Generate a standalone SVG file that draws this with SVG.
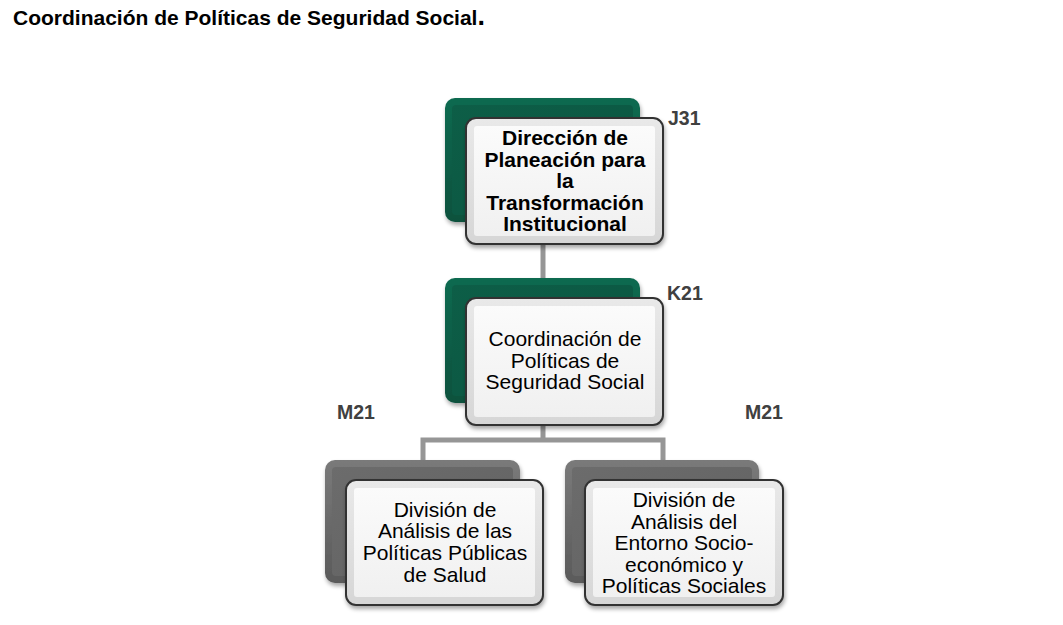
<svg xmlns="http://www.w3.org/2000/svg" width="1063" height="625" viewBox="0 0 1063 625">
<defs>
<linearGradient id="gGreen" x1="0" y1="0" x2="0" y2="1">
<stop offset="0" stop-color="#0f6a50"/><stop offset="1" stop-color="#0a513d"/>
</linearGradient>
<linearGradient id="gGreenIn" x1="0" y1="0" x2="1" y2="1">
<stop offset="0" stop-color="#0d5e47"/><stop offset="1" stop-color="#0b5541"/>
</linearGradient>
<linearGradient id="gGray" x1="0" y1="0" x2="0" y2="1">
<stop offset="0" stop-color="#7a7a7a"/><stop offset="1" stop-color="#5a5a5a"/>
</linearGradient>
<linearGradient id="gGrayIn" x1="0" y1="0" x2="1" y2="1">
<stop offset="0" stop-color="#6c6c6c"/><stop offset="1" stop-color="#616161"/>
</linearGradient>
<linearGradient id="gWhite" x1="0" y1="0" x2="0" y2="1">
<stop offset="0" stop-color="#e9e9e9"/><stop offset="1" stop-color="#d6d6d6"/>
</linearGradient>
<linearGradient id="gWhiteIn" x1="0" y1="0" x2="0" y2="1">
<stop offset="0" stop-color="#fbfbfb"/><stop offset="1" stop-color="#f0f0f0"/>
</linearGradient>
<filter id="sh" x="-10%" y="-10%" width="125%" height="130%">
<feGaussianBlur in="SourceAlpha" stdDeviation="2"/>
<feOffset dx="1" dy="3" result="b"/>
<feComponentTransfer><feFuncA type="linear" slope="0.35"/></feComponentTransfer>
<feMerge><feMergeNode/><feMergeNode in="SourceGraphic"/></feMerge>
</filter>
</defs>
<style>
.title{font-family:"Liberation Sans",Arial,sans-serif;font-weight:bold;font-size:21px;fill:#000}
.code{font-family:"Liberation Sans",Arial,sans-serif;font-weight:bold;font-size:19.5px;fill:#404040}
.t{font-family:"Liberation Sans",Arial,sans-serif;font-size:21px;fill:#000;text-anchor:middle}
.tb{font-weight:bold}
.bg{fill:url(#gGreen)}
.bgin{fill:url(#gGreenIn)}
.bk{fill:url(#gGray)}
.bkin{fill:url(#gGrayIn)}
.fr{fill:url(#gWhite);stroke:#333;stroke-width:2}
.frin{fill:url(#gWhiteIn)}
.conn{fill:none;stroke:#969696;stroke-width:5}
</style>

<text class="title" x="13" y="25">Coordinación de Políticas de Seguridad Social<tspan font-size="27">.</tspan></text>

<g id="connectors">
<path class="conn" d="M543 244 V279"/>
<path class="conn" d="M543 425 V440 M423 460 V440 H663 V460"/>
</g>

<g id="node-j31">
<rect class="bg" x="445" y="98" width="195" height="124" rx="10" filter="url(#sh)"/>
<rect class="bgin" x="452" y="105" width="181" height="110" rx="4"/>
<rect class="fr" x="466" y="118" width="197" height="126" rx="10" filter="url(#sh)"/>
<rect class="frin" x="474" y="126" width="181" height="110" rx="3"/>
<text class="t tb" x="565" y="145">Dirección de</text>
<text class="t tb" x="565" y="166.5">Planeación para</text>
<text class="t tb" x="565" y="188">la</text>
<text class="t tb" x="565" y="209.5">Transformación</text>
<text class="t tb" x="565" y="231">Institucional</text>
<text class="code" x="668" y="125">J31</text>
</g>

<g id="node-k21">
<rect class="bg" x="445" y="278" width="195" height="125" rx="10" filter="url(#sh)"/>
<rect class="bgin" x="452" y="285" width="181" height="111" rx="4"/>
<rect class="fr" x="466" y="298" width="197" height="127" rx="10" filter="url(#sh)"/>
<rect class="frin" x="474" y="306" width="181" height="111" rx="3"/>
<text class="t" x="565" y="346">Coordinación de</text>
<text class="t" x="565" y="367.7">Políticas de</text>
<text class="t" x="565" y="389.3">Seguridad Social</text>
<text class="code" x="667" y="300">K21</text>
</g>

<g id="node-m21-left">
<rect class="bk" x="325" y="460" width="195" height="123" rx="10" filter="url(#sh)"/>
<rect class="bkin" x="332" y="467" width="181" height="109" rx="4"/>
<rect class="fr" x="346" y="480" width="197" height="125" rx="10" filter="url(#sh)"/>
<rect class="frin" x="354" y="488" width="181" height="109" rx="3"/>
<text class="t" x="445" y="516.7">División de</text>
<text class="t" x="445" y="538.3">Análisis de las</text>
<text class="t" x="445" y="560">Políticas Públicas</text>
<text class="t" x="445" y="581.7">de Salud</text>
<text class="code" x="337" y="419">M21</text>
</g>

<g id="node-m21-right">
<rect class="bk" x="565" y="460" width="194" height="123" rx="10" filter="url(#sh)"/>
<rect class="bkin" x="572" y="467" width="180" height="109" rx="4"/>
<rect class="fr" x="585" y="480" width="198" height="125" rx="10" filter="url(#sh)"/>
<rect class="frin" x="593" y="488" width="182" height="109" rx="3"/>
<text class="t" x="684" y="507">División de</text>
<text class="t" x="684" y="528.6">Análisis del</text>
<text class="t" x="684" y="550.2">Entorno Socio-</text>
<text class="t" x="684" y="571.8">económico y</text>
<text class="t" x="684" y="593.4">Políticas Sociales</text>
<text class="code" x="745" y="419">M21</text>
</g>
</svg>
